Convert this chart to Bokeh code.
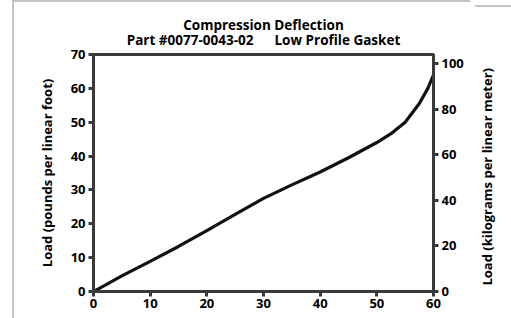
from bokeh.plotting import figure
from bokeh.models import Range1d, LinearAxis, Title, FixedTicker, Div
from bokeh.layouts import row
from bokeh.embed import file_html
from bokeh.resources import INLINE

deflection = [0, 2, 5, 10, 15, 20, 25, 30, 35, 40, 45, 50, 52.5, 55, 57.5, 59, 60]
load_lbft = [0, 1.8, 4.6, 8.9, 13.3, 18.0, 22.8, 27.5, 31.5, 35.3, 39.5, 44.0, 46.6, 50.0, 55.5, 60.0, 64.0]
x_ticks = [0, 10, 20, 30, 40, 50, 60]
y_ticks = [0, 10, 20, 30, 40, 50, 60, 70]
kg_ticks = [0, 20, 40, 60, 80, 100]
LB_TO_KG = 1.488
right_title = "Load (kilograms per linear meter)"

FONT = "Open Sans"
AX = "#3a3a3a"
TXT = "#000000"
BORDER = "#c4c4c4"
G = f"linear-gradient({BORDER},{BORDER})"

p = figure(width=470, height=318, output_backend="svg", toolbar_location=None,
           x_range=Range1d(0, 60), y_range=Range1d(0, 70),
           min_border_left=93, min_border_right=37, min_border_top=54, min_border_bottom=27)
p.extra_y_ranges = {"kg": Range1d(0, 70 * LB_TO_KG)}

p.xgrid.visible = False
p.ygrid.visible = False
p.outline_line_color = AX
p.outline_line_width = 3
p.background_fill_color = "white"
p.border_fill_alpha = 0
p.styles = {
    "background-color": "white",
    "background-image": f"{G}, {G}",
    "background-size": "2px 100%, 458px 2px",
    "background-position": "12px 1px, 12px 0px",
    "background-repeat": "no-repeat",
}

t2 = Title(text="Part #0077-0043-02\u00a0\u00a0\u00a0\u00a0\u00a0\u00a0Low Profile Gasket", align="center",
           text_font=FONT, text_font_size="13.5px", text_font_style="bold", text_color=TXT,
           standoff=11, offset=0)
t1 = Title(text="Compression Deflection", align="center",
           text_font=FONT, text_font_size="13.5px", text_font_style="bold", text_color=TXT,
           standoff=-20)
p.title = None
p.add_layout(t2, "above")
p.add_layout(t1, "above")

def style(ax):
    ax.axis_line_color = AX
    ax.axis_line_width = 3
    ax.major_tick_line_color = AX
    ax.major_tick_line_width = 3
    ax.major_tick_out = 5
    ax.major_tick_in = 0
    ax.minor_tick_line_color = None
    ax.major_label_text_font = FONT
    ax.major_label_text_font_style = "bold"
    ax.major_label_text_font_size = "13px"
    ax.major_label_text_color = TXT
    ax.axis_label_text_font = FONT
    ax.axis_label_text_font_style = "bold"
    ax.axis_label_text_font_size = "13px"
    ax.axis_label_text_color = TXT

p.xaxis.ticker = FixedTicker(ticks=x_ticks)
p.yaxis.ticker = FixedTicker(ticks=y_ticks)
p.yaxis.axis_label = "Load (pounds per linear foot)"
p.xaxis.major_label_standoff = 2
p.yaxis.major_label_standoff = 3
p.yaxis.axis_label_standoff = 12
style(p.xaxis[0])
style(p.yaxis[0])

rax = LinearAxis(y_range_name="kg", ticker=FixedTicker(ticks=kg_ticks))
style(rax)
rax.major_label_standoff = 3
p.add_layout(rax, "right")

p.line(deflection, load_lbft, line_color="#111111", line_width=3.2)

# right-hand axis title, reading bottom to top, in a narrow column beside the plot
html = (
    '<div style="box-sizing:content-box;height:292px;padding-top:26px;width:38px;'
    'display:flex;align-items:center;justify-content:flex-start;">'
    '<span style="writing-mode:vertical-rl;transform:rotate(180deg);'
    f"font-family:'{FONT}';font-weight:bold;font-size:13px;color:{TXT};"
    'white-space:nowrap;line-height:18px;margin-left:3px;">'
    f"{right_title}</span></div>"
)
div = Div(text=html, width=38, height=318,
          styles={
              "background-color": "white",
              "background-image": f"{G}, {G}",
              "background-size": "38px 2px, 2px 100%",
              "background-position": "0px 0px, 36px 1px",
              "background-repeat": "no-repeat",
          })

layout = row(p, div, spacing=0)

open("out.html", "w").write(file_html(layout, INLINE))
